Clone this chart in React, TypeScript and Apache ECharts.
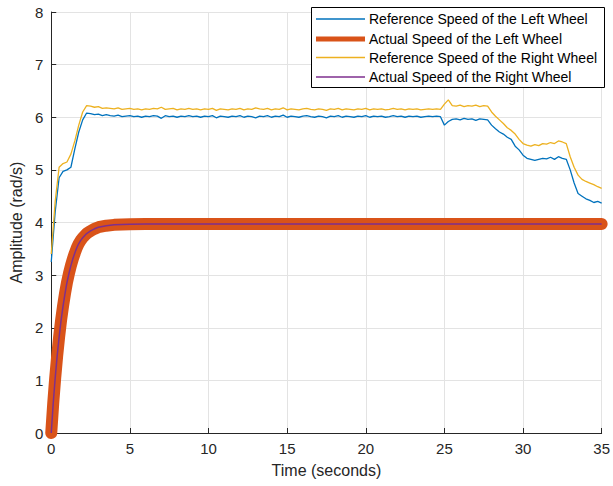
import React, { useEffect, useRef } from "react";
import * as echarts from "echarts";

const refTime: number[] = Array.from({ length: 141 }, (_, i) => i * 0.25);

const refLeft: number[] = [
  3.25, 4.2, 4.85, 4.97, 5.0, 5.05, 5.4, 5.72, 5.95, 6.08, 6.07, 6.05, 6.06, 6.03,
  6.05, 6.03, 6.02, 6.04, 6.01, 6.02, 6.03, 6.01, 6.02, 6.0,
  6.02, 6.01, 6.03, 6.02, 5.98, 6.03, 6.01, 6.02, 6.0, 6.02,
  6.01, 6.03, 6.01, 6.02, 6.0, 6.02, 6.01, 6.03, 5.99, 6.02,
  6.01, 6.0, 6.02, 6.01, 6.03, 6.0, 6.02, 6.01, 5.99, 6.02,
  6.01, 6.03, 6.0, 6.02, 6.01, 6.04, 6.0, 6.02, 6.01, 6.0,
  6.02, 6.03, 6.01, 6.0, 6.02, 6.01, 5.99, 6.02, 6.01, 6.03,
  6.0, 6.02, 6.01, 6.0, 6.02, 6.01, 6.03, 6.0, 6.02, 6.01,
  6.02, 6.0, 6.01, 6.03, 6.01, 6.02, 6.0, 6.02, 6.01, 6.02,
  6.0, 6.01, 6.02, 6.01, 6.02, 6.01,
  5.85, 5.92, 5.96, 5.97, 5.95, 5.98, 5.96, 5.97, 5.94, 5.97,
  5.96, 5.95, 5.85, 5.78, 5.72, 5.68, 5.62, 5.58, 5.45, 5.38,
  5.28, 5.22, 5.2, 5.18, 5.2, 5.22, 5.21, 5.24, 5.2, 5.25,
  5.22, 5.2, 5.0, 4.75, 4.55, 4.5, 4.45, 4.42, 4.38, 4.4,
  4.37,
];

const refRight: number[] = [
  3.4, 4.4, 5.05, 5.12, 5.15, 5.3, 5.55, 5.85, 6.1, 6.22, 6.21, 6.19, 6.2, 6.17,
  6.18, 6.17, 6.16, 6.18, 6.15, 6.16, 6.17, 6.15, 6.16, 6.14,
  6.16, 6.15, 6.17, 6.16, 6.19, 6.15, 6.16, 6.17, 6.14, 6.16,
  6.15, 6.17, 6.15, 6.16, 6.14, 6.16, 6.15, 6.17, 6.13, 6.16,
  6.15, 6.14, 6.16, 6.15, 6.17, 6.14, 6.16, 6.15, 6.18, 6.16,
  6.15, 6.17, 6.14, 6.16, 6.15, 6.18, 6.14, 6.16, 6.15, 6.14,
  6.16, 6.17, 6.15, 6.14, 6.16, 6.15, 6.13, 6.16, 6.15, 6.17,
  6.14, 6.16, 6.15, 6.14, 6.16, 6.15, 6.17, 6.14, 6.16, 6.15,
  6.16, 6.14, 6.15, 6.17, 6.15, 6.16, 6.14, 6.16, 6.15, 6.16,
  6.14, 6.15, 6.16, 6.15, 6.16, 6.15,
  6.25, 6.33, 6.22, 6.21, 6.23, 6.2, 6.22, 6.21, 6.23, 6.2,
  6.22, 6.21, 6.1, 6.02, 5.95, 5.88, 5.8, 5.75, 5.68, 5.58,
  5.5, 5.47, 5.45, 5.48, 5.46, 5.5, 5.49, 5.52, 5.5, 5.55,
  5.53, 5.5, 5.25, 5.05, 4.9, 4.82, 4.78, 4.75, 4.72, 4.68,
  4.65,
];

const actualTime: number[] = [
  0, 0.125, 0.25, 0.375, 0.5, 0.625, 0.75, 0.875, 1, 1.125, 1.25, 1.375, 1.5, 1.625, 1.75, 1.875,
  2, 2.25, 2.5, 2.75, 3, 3.5, 4, 4.5, 5, 6, 7, 8, 10, 15, 20, 25, 30, 35,
];
const actualLeft: number[] = [
  0, 0.56, 1.04, 1.46, 1.82, 2.14, 2.41, 2.65, 2.86, 3.03, 3.18, 3.31, 3.42, 3.52, 3.6, 3.66,
  3.71, 3.79, 3.84, 3.88, 3.91, 3.94, 3.955, 3.962, 3.966, 3.97, 3.97, 3.97, 3.97, 3.97, 3.97, 3.97, 3.97, 3.97,
];
const actualRight: number[] = [
  0, 0.56, 1.04, 1.46, 1.82, 2.14, 2.41, 2.65, 2.86, 3.03, 3.18, 3.31, 3.42, 3.52, 3.6, 3.66,
  3.71, 3.79, 3.84, 3.88, 3.91, 3.94, 3.955, 3.962, 3.966, 3.97, 3.97, 3.97, 3.97, 3.97, 3.97, 3.97, 3.97, 3.97,
];

const seriesNames: string[] = [
  "Reference Speed of the Left Wheel",
  "Actual Speed of the Left Wheel",
  "Reference Speed of the Right Wheel",
  "Actual Speed of the Right Wheel",
];
const colors: string[] = ["#0072BD", "#D95319", "#EDB120", "#7E2F8E"];

const FONT = "'Liberation Sans', Arial, Helvetica, sans-serif";

export default function App() {
  const ref = useRef<HTMLDivElement>(null);
  useEffect(() => {
    if (!ref.current) return;
    const chart = echarts.init(ref.current, null, { renderer: "svg" });
    const zip = (xs: number[], ys: number[]) => xs.map((x, i) => [x, ys[i]]);
    const legendWidths = [1.3, 5, 1.3, 1.5];
    const legendRows = [19, 39, 57.5, 77];
    const graphics: any[] = [
      {
        type: "rect",
        shape: { x: 311.5, y: 7.5, width: 293, height: 80 },
        style: { fill: "#fff", stroke: "#000", lineWidth: 1 },
        z: 100,
      },
    ];
    seriesNames.forEach((name, i) => {
      graphics.push({
        type: "line",
        shape: { x1: 316, y1: legendRows[i], x2: 365, y2: legendRows[i] },
        style: { stroke: colors[i], lineWidth: legendWidths[i] },
        z: 101,
      });
      graphics.push({
        type: "text",
        x: 369,
        y: legendRows[i],
        style: {
          text: name,
          fill: "#000",
          fontSize: 14,
          fontFamily: FONT,
          verticalAlign: "middle",
          align: "left",
        },
        z: 101,
      });
    });
    chart.setOption({
      animation: false,
      backgroundColor: "#fff",
      textStyle: { fontFamily: FONT },
      grid: { left: 51, right: 9, top: 12, bottom: 53 },
      xAxis: {
        type: "value",
        min: 0,
        max: 35,
        interval: 5,
        name: "Time (seconds)",
        nameLocation: "middle",
        nameGap: 29,
        nameTextStyle: { fontSize: 16, color: "#262626", fontFamily: FONT },
        axisLine: { show: true, lineStyle: { color: "#262626", width: 1 } },
        axisTick: { show: true, inside: true, length: 5, lineStyle: { color: "#262626" } },
        axisLabel: { fontSize: 15, color: "#262626", margin: 8, fontFamily: FONT },
        splitLine: { show: true, lineStyle: { color: "#e3e3e3", width: 1 } },
      },
      yAxis: {
        type: "value",
        min: 0,
        max: 8,
        interval: 1,
        name: "Amplitude (rad/s)",
        nameLocation: "middle",
        nameGap: 27,
        nameTextStyle: { fontSize: 16, color: "#262626", fontFamily: FONT },
        axisLine: { show: true, lineStyle: { color: "#262626", width: 1 } },
        axisTick: { show: true, inside: true, length: 5, lineStyle: { color: "#262626" } },
        axisLabel: { fontSize: 15, color: "#262626", margin: 8, fontFamily: FONT },
        splitLine: { show: true, lineStyle: { color: "#e3e3e3", width: 1 } },
      },
      series: [
        {
          name: seriesNames[0],
          type: "line",
          data: zip(refTime, refLeft),
          showSymbol: false,
          lineStyle: { color: colors[0], width: 1.3 },
          z: 2,
        },
        {
          name: seriesNames[1],
          type: "line",
          data: zip(actualTime, actualLeft),
          showSymbol: false,
          lineStyle: { color: colors[1], width: 12, cap: "round", join: "round" },
          z: 3,
        },
        {
          name: seriesNames[2],
          type: "line",
          data: zip(refTime, refRight),
          showSymbol: false,
          lineStyle: { color: colors[2], width: 1.3 },
          z: 4,
        },
        {
          name: seriesNames[3],
          type: "line",
          data: zip(actualTime, actualRight),
          showSymbol: false,
          lineStyle: { color: colors[3], width: 1.5 },
          z: 5,
        },
      ],
      graphic: graphics,
    });
    return () => chart.dispose();
  }, []);
  return (
    <div
      ref={ref}
      style={{ position: "absolute", left: 0, top: 0, width: 613, height: 486 }}
    />
  );
}
